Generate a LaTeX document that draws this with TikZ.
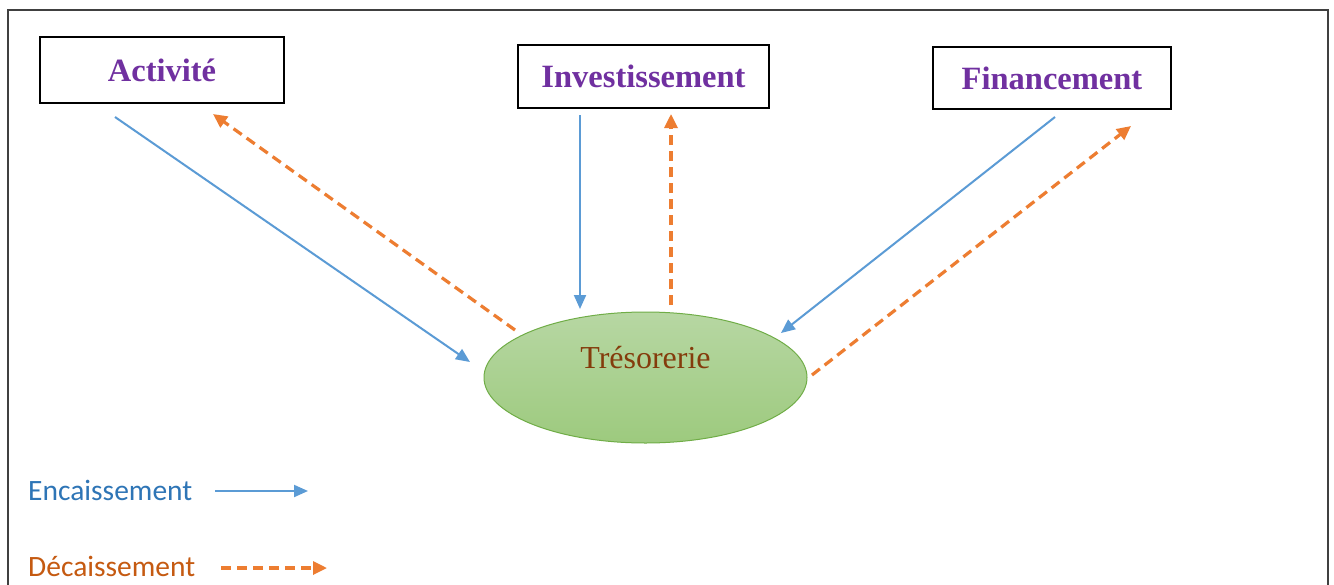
\documentclass[tikz,border=0pt]{standalone}
\usepackage{fontspec}
\setmainfont{Liberation Serif}
\newfontfamily\calibri{Carlito}
\usetikzlibrary{arrows.meta,shapes.geometric}
\definecolor{boxpurple}{HTML}{7030A0}
\definecolor{encblue}{HTML}{5B9BD5}
\definecolor{enctext}{HTML}{2E75B6}
\definecolor{decorange}{HTML}{ED7D31}
\definecolor{dectext}{HTML}{C55A11}
\definecolor{trestext}{HTML}{843C0C}
\definecolor{greentop}{HTML}{B7D7A3}
\definecolor{greenbot}{HTML}{9DCA7E}
\definecolor{greenline}{HTML}{70AD47}
\tikzset{
  flowbox/.style={draw=black, line width=2.8pt, fill=white, text=boxpurple,
    font=\fontsize{32.5}{38}\selectfont\bfseries, inner sep=0pt},
  enc/.style={draw=encblue, line width=2pt, -{Triangle[length=14pt,width=12pt]}},
  dec/.style={draw=decorange, line width=3.2pt, dash pattern=on 10pt off 6pt,
    -{Triangle[length=14pt,width=13pt]}},
  legtext/.style={font=\calibri\fontsize{29.5}{34}\selectfont, anchor=west, inner sep=0pt}
}
\begin{document}
\begin{tikzpicture}[x=1pt,y=-1pt]
\useasboundingbox (0,0) rectangle (1334,584);
\fill[white] (0,0) rectangle (1334,584);
\draw[line width=1.5pt, draw=black!75] (8,600) -- (8,10) -- (1328,10) -- (1328,600);
% boxes
\node[flowbox, minimum width=244pt, minimum height=66pt] (act) at (162,70) {Activit\'e};
\node[flowbox, minimum width=251pt, minimum height=63pt] (inv) at (643.5,76.5) {Investissement};
\node[flowbox, minimum width=238pt, minimum height=62pt] (fin) at (1052,78) {Financement};
% ellipse
\node[ellipse, draw=greenline, line width=1pt, top color=greentop, bottom color=greenbot,
  minimum width=323pt, minimum height=131pt, inner sep=0pt] (tres) at (645.5,377.5) {};
\node[text=trestext, font=\fontsize{32}{37}\selectfont, inner sep=0pt] (trestxt) at (645.5,358) {Tr\'esorerie};
% coordinates
\coordinate (a1) at (115,117);
\coordinate (a2) at (470,362);
\coordinate (a3) at (515,330);
\coordinate (a4) at (213,114);
\coordinate (i1) at (580,115);
\coordinate (i2) at (580,309);
\coordinate (i3) at (671,305);
\coordinate (i4) at (671,114);
\coordinate (f1) at (1055,117);
\coordinate (f2) at (781,333);
\coordinate (f3) at (812,375);
\coordinate (f4) at (1131,126);
\draw[enc] (a1) -- (a2);
\draw[dec] (a3) -- (a4);
\draw[enc] (i1) -- (i2);
\draw[dec] (i3) -- (i4);
\draw[enc] (f1) -- (f2);
\draw[dec] (f3) -- (f4);
% legend
\node[legtext, text=enctext] (lenc) at (28,490) {Encaissement};
\node[legtext, text=dectext] (ldec) at (28,566) {D\'ecaissement};
\coordinate (le1) at (215,491);
\coordinate (le2) at (308,491);
\coordinate (ld1) at (221,568);
\coordinate (ld2) at (327,568);
\draw[enc] (le1) -- (le2);
\draw[dec] (ld1) -- (ld2);
\end{tikzpicture}
\end{document}
